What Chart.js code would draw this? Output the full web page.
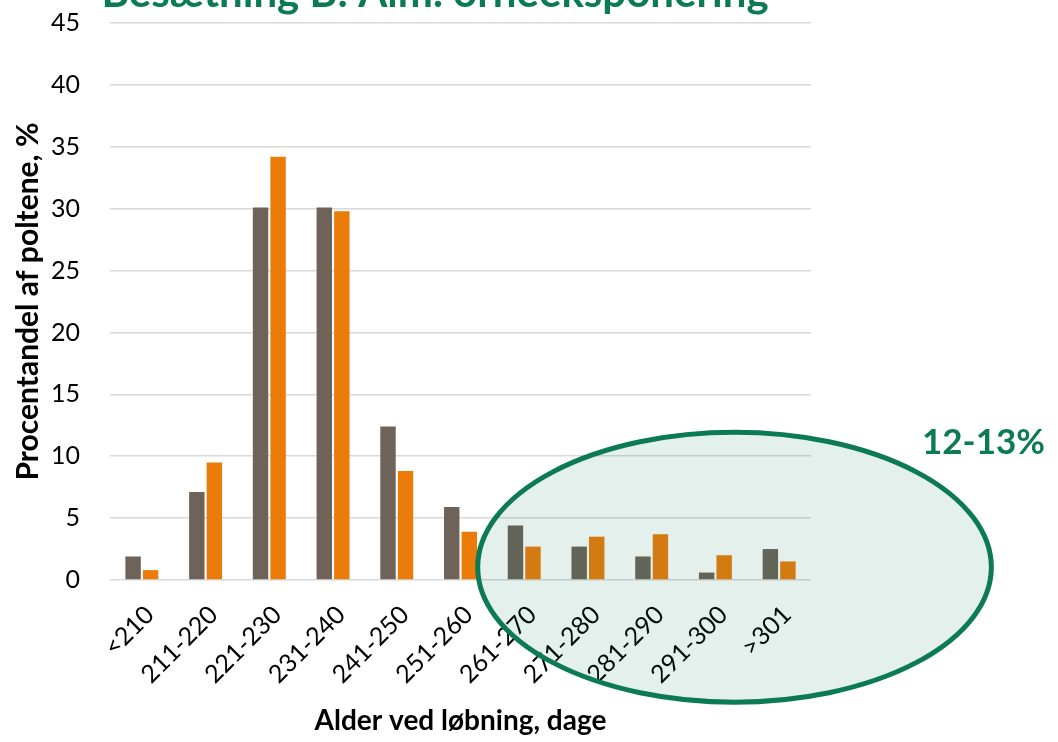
<!DOCTYPE html>
<html>
<head>
<meta charset="utf-8">
<script src="https://cdn.jsdelivr.net/npm/chart.js@4"></script>
<style>
  html, body { margin: 0; padding: 0; background: #fff; overflow: hidden; }
  #wrap { width: 1058px; height: 742px; position: relative; overflow: hidden; }
  #chart { position: absolute; left: 0; top: -22px; }
</style>
</head>
<body>
<div id="wrap"><canvas id="chart" width="1058" height="764"></canvas></div>
<script>
const categories = ['<210', '211-220', '221-230', '231-240', '241-250', '251-260', '261-270', '271-280', '281-290', '291-300', '>301'];
const seriesGray = [1.9, 7.1, 30.1, 30.1, 12.4, 5.9, 4.4, 2.7, 1.9, 0.6, 2.5];
const seriesOrange = [0.8, 9.5, 34.2, 29.8, 8.8, 3.9, 2.7, 3.5, 3.7, 2.0, 1.5];
const yTicks = [0, 5, 10, 15, 20, 25, 30, 35, 40, 45];

const titleText = 'Besætning B: Alm. orneeksponering';
const calloutText = '12-13%';
const green = '#0B7A55';
const font = 'Lato, "Open Sans", sans-serif';

// ellipse placed in data units: centre at category index / value, radii in categories / value units
const ellipse = { cx: 9.3, cy: 1.03, rx: 4.03, ry: 10.9 };

const extras = {
  id: 'extras',
  afterDraw(chart) {
    const ctx = chart.ctx;
    const x = chart.scales.x, y = chart.scales.y;
    const step = x.getPixelForValue(1) - x.getPixelForValue(0);
    const cx = x.getPixelForValue(0) + ellipse.cx * step;
    const cy = y.getPixelForValue(ellipse.cy);
    const rx = ellipse.rx * step;
    const ry = Math.abs(y.getPixelForValue(0) - y.getPixelForValue(ellipse.ry));
    ctx.save();
    ctx.beginPath();
    ctx.ellipse(cx, cy, rx, ry, 0, 0, Math.PI * 2);
    ctx.fillStyle = 'rgba(11,122,85,0.11)';
    ctx.fill();
    ctx.lineWidth = 5;
    ctx.strokeStyle = green;
    ctx.stroke();

    ctx.fillStyle = green;
    ctx.font = 'bold 35px ' + font;
    ctx.textAlign = 'left';
    ctx.textBaseline = 'middle';
    ctx.fillText(calloutText, 922, 465);

    ctx.font = 'bold 42px ' + font;
    ctx.textAlign = 'center';
    ctx.textBaseline = 'alphabetic';
    ctx.fillText(titleText, 435, 29);
    ctx.restore();
  }
};

new Chart(document.getElementById('chart'), {
  type: 'bar',
  data: {
    labels: categories,
    datasets: [
      { label: 'Gray', data: seriesGray, backgroundColor: '#6F6259' },
      { label: 'Orange', data: seriesOrange, backgroundColor: '#EC7C0A' }
    ]
  },
  options: {
    responsive: false,
    animation: false,
    layout: { padding: { top: 0, right: 247, bottom: 4, left: 8 } },
    datasets: { bar: { categoryPercentage: 0.55, barPercentage: 0.88 } },
    plugins: {
      legend: { display: false },
      title: { display: false },
      tooltip: { enabled: false }
    },
    scales: {
      x: {
        afterFit(axis) { axis.height = 158; },
        grid: { display: false },
        border: { display: false },
        ticks: { color: '#000', font: { family: font, size: 25 }, maxRotation: 45, minRotation: 45, padding: 12, labelOffset: 8 },
        title: { display: true, text: 'Alder ved løbning, dage', color: '#000', font: { family: font, size: 28, weight: 'bold' }, padding: { top: 4, bottom: 0 } }
      },
      y: {
        min: 0,
        max: 45,
        afterFit(axis) { axis.width = 102; },
        afterBuildTicks(axis) { axis.ticks = yTicks.map(v => ({ value: v })); },
        grid: { color: '#D9D9D9', lineWidth: 1.5, drawTicks: false },
        border: { display: false },
        ticks: { color: '#000', font: { family: font, size: 25 }, padding: 30 },
        title: { display: true, text: 'Procentandel af poltene, %', color: '#000', font: { family: font, size: 30, weight: 'bold' }, padding: { top: 2, bottom: 6 } }
      }
    }
  },
  plugins: [extras]
});
</script>
</body>
</html>
